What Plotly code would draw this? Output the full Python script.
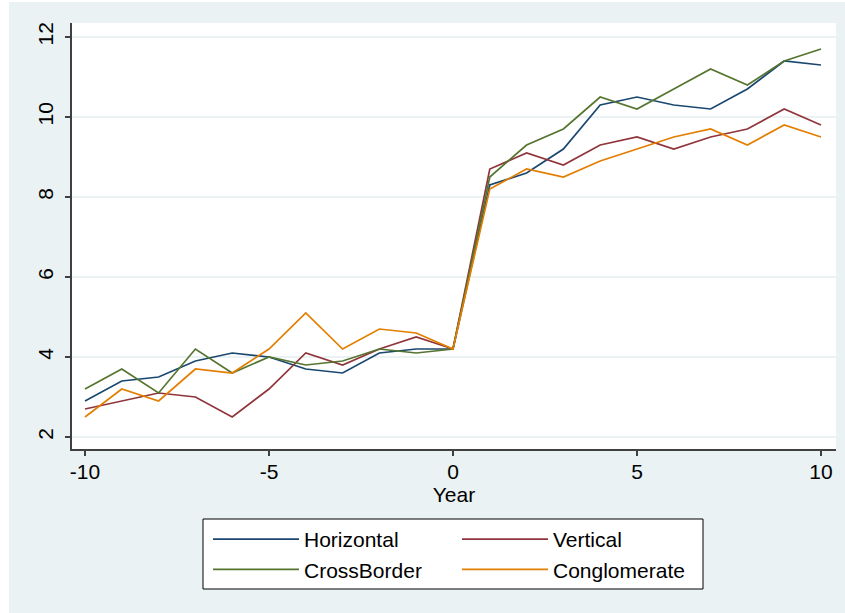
import plotly.graph_objects as go

years = list(range(-10, 11))
horizontal = [2.9, 3.4, 3.5, 3.9, 4.1, 4.0, 3.7, 3.6, 4.1, 4.2, 4.2,
              8.3, 8.6, 9.2, 10.3, 10.5, 10.3, 10.2, 10.7, 11.4, 11.3]
vertical = [2.7, 2.9, 3.1, 3.0, 2.5, 3.2, 4.1, 3.8, 4.2, 4.5, 4.2,
            8.7, 9.1, 8.8, 9.3, 9.5, 9.2, 9.5, 9.7, 10.2, 9.8]
crossborder = [3.2, 3.7, 3.1, 4.2, 3.6, 4.0, 3.8, 3.9, 4.2, 4.1, 4.2,
               8.5, 9.3, 9.7, 10.5, 10.2, 10.7, 11.2, 10.8, 11.4, 11.7]
conglomerate = [2.5, 3.2, 2.9, 3.7, 3.6, 4.2, 5.1, 4.2, 4.7, 4.6, 4.2,
                8.2, 8.7, 8.5, 8.9, 9.2, 9.5, 9.7, 9.3, 9.8, 9.5]

series_names = ["Horizontal", "Vertical", "CrossBorder", "Conglomerate"]
series_values = [horizontal, vertical, crossborder, conglomerate]
colors = ["#1A476F", "#90353B", "#55752F", "#E37E00"]
legend_groups = ["legend", "legend2", "legend", "legend2"]

x_ticks = [-10, -5, 0, 5, 10]
y_ticks = [2, 4, 6, 8, 10, 12]

W, H = 845, 613
L, R, T, B = 72, 9, 23, 164

fig = go.Figure()
for name, vals, c, lg in zip(series_names, series_values, colors, legend_groups):
    fig.add_trace(go.Scatter(x=years, y=vals, mode="lines", name=name,
                             legend=lg, line=dict(color=c, width=1.7)))

font = dict(family="Liberation Sans, Arial, sans-serif", size=21, color="#000000")
pw = W - L - R
ph = H - T - B

def px_x(p):
    return (p - L) / pw

def px_y(p):
    return (H - B - p) / ph

legend_common = dict(
    orientation="v",
    xanchor="left",
    y=px_y(519), yanchor="top",
    bgcolor="rgba(0,0,0,0)",
    borderwidth=0,
    itemwidth=86,
    font=font,
    traceorder="normal",
)

fig.update_layout(
    width=W, height=H,
    margin=dict(l=L, r=R, t=T, b=B, pad=0, autoexpand=False),
    paper_bgcolor="#EAF2F3",
    plot_bgcolor="#FFFFFF",
    font=font,
    showlegend=True,
    legend=dict(x=px_x(208), **legend_common),
    legend2=dict(x=px_x(457), **legend_common),
    xaxis=dict(
        range=[-10.353, 10.408],
        tickvals=x_ticks,
        ticktext=[str(v) for v in x_ticks],
        showgrid=False,
        zeroline=False,
        showline=True, linecolor="#404040", linewidth=1.5,
        ticks="outside", ticklen=5, tickcolor="#404040", tickwidth=1.5,
        tickfont=font,
        ticklabelstandoff=-2,
        automargin=False,
        title=dict(text="Year", font=font, standoff=0),
    ),
    yaxis=dict(
        range=[1.7, 12.35],
        tickvals=y_ticks,
        ticktext=[str(v) for v in y_ticks],
        showgrid=True, gridcolor="#EAF2F3", gridwidth=1.5,
        zeroline=False,
        showline=True, linecolor="#404040", linewidth=1.5,
        ticks="outside", ticklen=5, tickcolor="#404040", tickwidth=1.5,
        tickangle=-90,
        tickfont=font,
        ticklabelstandoff=4,
        automargin=False,
    ),
    shapes=[
        dict(type="rect", xref="paper", yref="paper",
             x0=px_x(0), x1=px_x(9), y0=px_y(H), y1=px_y(0),
             fillcolor="#FFFFFF", line=dict(width=0), layer="below"),
        dict(type="rect", xref="paper", yref="paper",
             x0=px_x(0), x1=px_x(W), y0=px_y(2), y1=px_y(0),
             fillcolor="#FFFFFF", line=dict(width=0), layer="below"),
        # legend frame
        dict(type="rect", xref="paper", yref="paper",
             x0=px_x(203), x1=px_x(703), y0=px_y(589), y1=px_y(519),
             fillcolor="#FFFFFF", line=dict(color="#000000", width=1),
             layer="above"),
    ],
)

fig.write_html("out.html", config={"displayModeBar": False},
               post_script="document.body.style.margin='0';")
